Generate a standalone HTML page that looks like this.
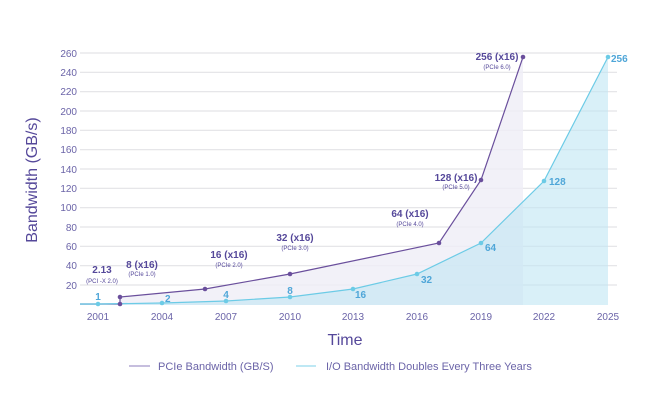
<!DOCTYPE html>
<html><head><meta charset="utf-8"><style>
body{margin:0;background:#fff}
svg text{font-family:"Liberation Sans",sans-serif}
</style></head><body>
<svg width="650" height="405" viewBox="0 0 650 405" xmlns="http://www.w3.org/2000/svg">
<g stroke="#e3e3e6" stroke-width="1.2">
<line x1="80" x2="617" y1="53" y2="53"/><line x1="80" x2="617" y1="72.3" y2="72.3"/><line x1="80" x2="617" y1="91.7" y2="91.7"/><line x1="80" x2="617" y1="111" y2="111"/><line x1="80" x2="617" y1="130.3" y2="130.3"/><line x1="80" x2="617" y1="149.7" y2="149.7"/><line x1="80" x2="617" y1="169" y2="169"/><line x1="80" x2="617" y1="188.3" y2="188.3"/><line x1="80" x2="617" y1="207.7" y2="207.7"/><line x1="80" x2="617" y1="227" y2="227"/><line x1="80" x2="617" y1="246.3" y2="246.3"/><line x1="80" x2="617" y1="265.7" y2="265.7"/><line x1="80" x2="617" y1="285" y2="285"/>
</g>
<g fill="#6b64a8" font-size="10" text-anchor="end">
<text x="77" y="57">260</text><text x="77" y="76">240</text><text x="77" y="95">220</text><text x="77" y="115">200</text><text x="77" y="134">180</text><text x="77" y="153">160</text><text x="77" y="173">140</text><text x="77" y="192">120</text><text x="77" y="211">100</text><text x="77" y="231">80</text><text x="77" y="250">60</text><text x="77" y="269">40</text><text x="77" y="289">20</text>
</g>
<polygon points="80,304 120,304 120,297 205,289 290,274 439,243 481,180 523,57 523,305 80,305" fill="#efedf6" opacity="0.8"/>
<polygon points="80,304 98,304 162,303 226,301 290,297 353,289 417,274 481,243 544,181 608,57 608,305 80,305" fill="#bfe6f3" opacity="0.6"/>
<polyline points="80,304 120,304 120,297 205,289 290,274 439,243 481,180 523,57" fill="none" stroke="#6a4f9c" stroke-width="1.2"/>
<polyline points="80,304 98,304 162,303 226,301 290,297 353,289 417,274 481,243 544,181 608,57" fill="none" stroke="#6ccbe6" stroke-width="1.2"/>
<g fill="#6a4f9c"><circle cx="120" cy="304" r="2.3"/><circle cx="120" cy="297" r="2.3"/><circle cx="205" cy="289" r="2.3"/><circle cx="290" cy="274" r="2.3"/><circle cx="439" cy="243" r="2.3"/><circle cx="481" cy="180" r="2.3"/><circle cx="523" cy="57" r="2.3"/></g>
<g fill="#6ccbe6"><circle cx="98" cy="304" r="2.3"/><circle cx="162" cy="303" r="2.3"/><circle cx="226" cy="301" r="2.3"/><circle cx="290" cy="297" r="2.3"/><circle cx="353" cy="289" r="2.3"/><circle cx="417" cy="274" r="2.3"/><circle cx="481" cy="243" r="2.3"/><circle cx="544" cy="181" r="2.3"/><circle cx="608" cy="57" r="2.3"/></g>
<g fill="#4fa6d8" font-size="10" font-weight="bold">
<text x="98" y="300" text-anchor="middle">1</text><text x="165" y="302">2</text><text x="226" y="298" text-anchor="middle">4</text><text x="290" y="294" text-anchor="middle">8</text><text x="355" y="298">16</text><text x="421" y="283">32</text><text x="485" y="251">64</text><text x="549" y="185">128</text><text x="611" y="62">256</text>
</g>
<g fill="#55489a" text-anchor="middle">
<text x="102" y="273" font-size="10" font-weight="bold">2.13</text><text x="102" y="283" font-size="6">(PCI -X 2.0)</text>
<text x="142" y="268" font-size="10" font-weight="bold">8 (x16)</text><text x="142" y="276" font-size="6">(PCIe 1.0)</text>
<text x="229" y="258" font-size="10" font-weight="bold">16 (x16)</text><text x="229" y="267" font-size="6">(PCIe 2.0)</text>
<text x="295" y="241" font-size="10" font-weight="bold">32 (x16)</text><text x="295" y="250" font-size="6">(PCIe 3.0)</text>
<text x="410" y="217" font-size="10" font-weight="bold">64 (x16)</text><text x="410" y="226" font-size="6">(PCIe 4.0)</text>
<text x="456" y="181" font-size="10" font-weight="bold">128 (x16)</text><text x="456" y="189" font-size="6">(PCIe 5.0)</text>
<text x="497" y="60" font-size="10" font-weight="bold">256 (x16)</text><text x="497" y="69" font-size="6">(PCIe 6.0)</text>
</g>
<g fill="#6b64a8" font-size="10" text-anchor="middle">
<text x="98" y="320">2001</text><text x="162" y="320">2004</text><text x="226" y="320">2007</text><text x="290" y="320">2010</text><text x="353" y="320">2013</text><text x="417" y="320">2016</text><text x="481" y="320">2019</text><text x="544" y="320">2022</text><text x="608" y="320">2025</text>
</g>
<text x="345" y="345" font-size="16" fill="#55489a" text-anchor="middle">Time</text>
<text transform="translate(37,180) rotate(-90)" font-size="16" fill="#55489a" text-anchor="middle">Bandwidth (GB/s)</text>
<line x1="129" x2="150" y1="366" y2="366" stroke="#b3a9d3" stroke-width="1.5"/>
<text x="158" y="370" font-size="11" fill="#6b64a8">PCIe Bandwidth (GB/S)</text>
<line x1="296" x2="316" y1="366" y2="366" stroke="#a9e1f0" stroke-width="1.5"/>
<text x="326" y="370" font-size="11" fill="#6b64a8">I/O Bandwidth Doubles Every Three Years</text>
</svg>
</body></html>
